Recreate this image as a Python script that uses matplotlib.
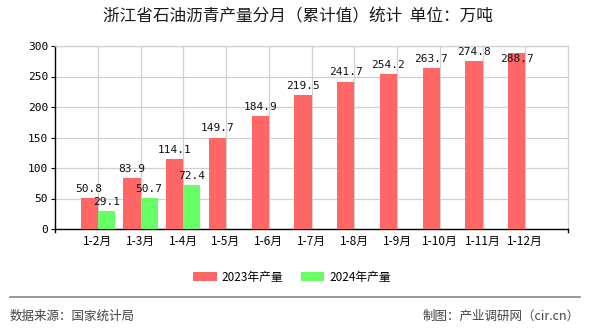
import matplotlib
matplotlib.use("Agg")
import matplotlib.pyplot as plt
import numpy as np
from matplotlib.patches import Patch
from matplotlib.lines import Line2D

plt.rcParams['font.family'] = ['Noto Sans CJK SC', 'DejaVu Sans']

categories = ["1-2月", "1-3月", "1-4月", "1-5月", "1-6月", "1-7月",
              "1-8月", "1-9月", "1-10月", "1-11月", "1-12月"]
values_2023 = [50.8, 83.9, 114.1, 149.7, 184.9, 219.5, 241.7, 254.2, 263.7, 274.8, 288.7]
values_2024 = [29.1, 50.7, 72.4]
yticks = [0, 50, 100, 150, 200, 250, 300]
title = "浙江省石油沥青产量分月（累计值）统计  单位：万吨"
series_names = ["2023年产量", "2024年产量"]
source_left = "数据来源：国家统计局"
source_right = "制图：产业调研网（cir.cn）"

red = "#FF6666"
green = "#66FF66"

fig = plt.figure(figsize=(5.9, 3.3), dpi=100)
ax = fig.add_axes([55/590, 1-229/330, 513/590, 183/330])

x = np.arange(len(categories))
w = 0.4
ax.bar(x - w/2, values_2023, width=w, color=red, zorder=3)
x24 = np.arange(len(values_2024))
ax.bar(x24 + w/2, values_2024, width=w, color=green, zorder=3)

def lab_y(v):
    return v + 7 if v + 20 <= 300 else v - 18

mono = ['DejaVu Sans Mono', 'Noto Sans CJK SC']
for xi, v in zip(x, values_2023):
    ax.text(xi - w/2, lab_y(v), f"{v}", ha='center', va='bottom',
            fontsize=8, family=mono, color='#111111', zorder=5)
for xi, v in zip(x24, values_2024):
    ax.text(xi + w/2, lab_y(v), f"{v}", ha='center', va='bottom',
            fontsize=8, family=mono, color='#111111', zorder=5)

ax.set_xlim(-1, len(categories))
ax.set_ylim(0, 300)
ax.set_yticks(yticks)
ax.set_yticklabels([str(t) for t in yticks], fontsize=8, family=mono)
ax.set_xticks(x)
ax.set_xticklabels(categories, fontsize=8.5)
ax.tick_params(axis='x', length=0, pad=4)
ax.tick_params(axis='y', length=3, pad=2, color='#000000')

ax.grid(True, color='#d0d0d0', linewidth=0.9, zorder=0)
ax.set_axisbelow(True)
for s in ['top', 'right']:
    ax.spines[s].set_color('#d0d0d0')
    ax.spines[s].set_linewidth(0.9)
ax.spines['left'].set_color('#000000')
ax.spines['bottom'].set_color('#000000')
ax.spines['left'].set_linewidth(1.0)
ax.spines['bottom'].set_linewidth(1.0)
for xe in [-1, len(categories)]:
    ax.plot([xe, xe], [0, -5], color='#000000', lw=1.0, clip_on=False, zorder=4)

fig.text(298/590, 1-17/330, title, ha='center', va='center', fontsize=12,
         color='#1a1a1a', fontweight='medium')

handles = [Patch(facecolor=red, edgecolor='none'), Patch(facecolor=green, edgecolor='none')]
fig.legend(handles, series_names, loc='center', bbox_to_anchor=(292/590, 1-277/330),
           ncol=2, frameon=False, fontsize=8.5, handlelength=2.0, handleheight=0.7,
           columnspacing=1.5, handletextpad=0.4)

fig.add_artist(Line2D([10/590, 580/590], [1-297/330, 1-297/330], color='#888888', lw=1.2))
fig.text(10/590, 1-316/330, source_left, ha='left', va='center', fontsize=9, color='#444444')
fig.text(580/590, 1-316/330, source_right, ha='right', va='center', fontsize=9, color='#444444')

fig.savefig("out.png", dpi=100)
